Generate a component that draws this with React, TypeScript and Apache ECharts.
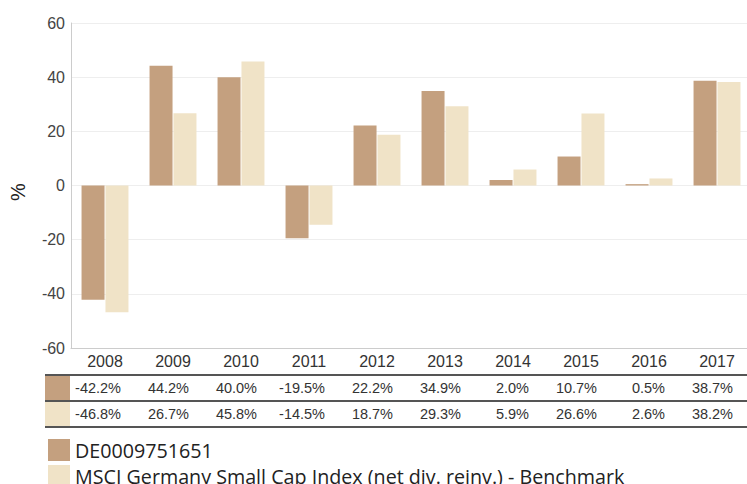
import React, { useEffect, useRef } from "react";
import * as echarts from "echarts";

const categories = ["2008", "2009", "2010", "2011", "2012", "2013", "2014", "2015", "2016", "2017"];
const fundValues = [-42.2, 44.2, 40.0, -19.5, 22.2, 34.9, 2.0, 10.7, 0.5, 38.7];
const benchValues = [-46.8, 26.7, 45.8, -14.5, 18.7, 29.3, 5.9, 26.6, 2.6, 38.2];
const seriesNames = ["DE0009751651", "MSCI Germany Small Cap Index (net div. reinv.) - Benchmark"];
const colors = ["#c4a07f", "#f0e3c7"];

export default function App() {
  const ref = useRef<HTMLDivElement>(null);
  useEffect(() => {
    document.body.style.margin = "0";
    const chart = echarts.init(ref.current!, null, { renderer: "svg" });
    chart.setOption({
      animation: false,
      grid: { left: 71, top: 23, width: 680, height: 325 },
      legend: {
        orient: "vertical",
        left: 48,
        top: 439,
        height: 80,
        width: 700,
        icon: "rect",
        itemWidth: 22,
        itemHeight: 22,
        itemGap: 4,
        padding: 0,
        textStyle: { fontSize: 19.7, fontFamily: "Open Sans", color: "#222" },
        selectedMode: false,
      },
      xAxis: {
        type: "category",
        data: categories,
        axisLine: { onZero: false, lineStyle: { color: "#ccc" } },
        axisTick: { show: false },
        axisLabel: { margin: 5, fontSize: 16, color: "#333", fontFamily: "Liberation Sans" },
      },
      yAxis: {
        type: "value",
        min: -60,
        max: 60,
        interval: 20,
        axisLine: { show: true, lineStyle: { color: "#ccc" } },
        axisTick: { show: false },
        splitLine: { lineStyle: { color: "#eee" } },
        axisLabel: { margin: 6, fontSize: 16, color: "#444", fontFamily: "Liberation Sans" },
      },
      series: [
        { name: seriesNames[0], type: "bar", data: fundValues, barWidth: 23, barGap: "4%", itemStyle: { color: colors[0] } },
        { name: seriesNames[1], type: "bar", data: benchValues, barWidth: 23, itemStyle: { color: colors[1] } },
      ],
    });

    const rows = [fundValues, benchValues];
    const rowY = [388, 414];
    const graphic: any[] = [
      {
        type: "text",
        x: 18,
        y: 192,
        rotation: Math.PI / 2,
        style: { text: "%", fontSize: 20, fill: "#222", fontFamily: "Liberation Sans", align: "center", verticalAlign: "middle" },
      },
    ];
    [375, 401, 427].forEach((y) => {
      graphic.push({ type: "line", shape: { x1: 45, y1: y, x2: 747, y2: y }, style: { stroke: "#555", lineWidth: 2 } });
    });
    rows.forEach((vals, r) => {
      graphic.push({ type: "rect", shape: { x: 45, y: rowY[r] - 12, width: 25, height: 24 }, style: { fill: colors[r] } });
      vals.forEach((v, i) => {
        const x = chart.convertToPixel({ xAxisIndex: 0 }, categories[i]) as number;
        graphic.push({
          type: "text",
          x: x + 16,
          y: rowY[r],
          style: {
            text: v.toFixed(1) + "%",
            fontSize: 14.5,
            fill: "#333",
            fontFamily: "Liberation Sans",
            align: "right",
            verticalAlign: "middle",
          },
        });
      });
    });
    chart.setOption({ graphic });
    return () => chart.dispose();
  }, []);
  return (
    <div style={{ width: 747, height: 484, overflow: "hidden", position: "relative" }}>
      <div ref={ref} style={{ width: 752, height: 484 }} />
    </div>
  );
}
